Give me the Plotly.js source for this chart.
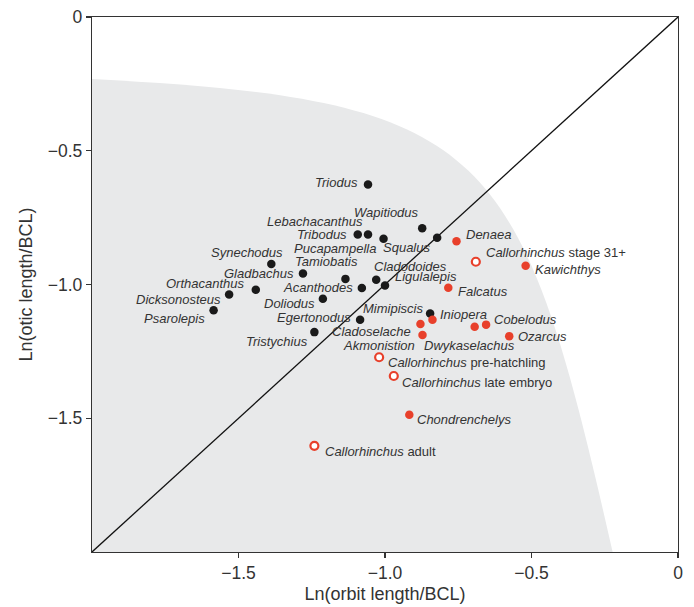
<!DOCTYPE html>
<html>
<head>
<meta charset="utf-8">
<script src="https://cdn.plot.ly/plotly-3.0.1.min.js"></script>
<style>html,body{margin:0;padding:0;background:#fff;}#chart{width:694px;height:607px;}</style>
</head>
<body>
<div id="chart"></div>
<script>
// ---- Data ----
const blackNames = ["Triodus","Wapitiodus","Lebachacanthus","Tribodus","Pucapampella","Squalus","Synechodus","Gladbachus","Tamiobatis","Cladodoides","Ligulalepis","Acanthodes","Orthacanthus","Dicksonosteus","Doliodus","Psarolepis","Mimipiscis","Egertonodus","Tristychius"];
const blackX = [-1.058,-0.873,-1.058,-1.093,-1.005,-0.822,-1.388,-1.280,-1.135,-1.030,-1.000,-1.079,-1.441,-1.532,-1.212,-1.585,-0.846,-1.085,-1.241];
const blackY = [-0.626,-0.790,-0.813,-0.813,-0.829,-0.825,-0.923,-0.959,-0.979,-0.982,-1.004,-1.013,-1.020,-1.037,-1.053,-1.096,-1.108,-1.132,-1.178];

const redNames = ["Denaea","Kawichthys","Falcatus","Iniopera","Cladoselache","Akmonistion","Dwykaselachus","Cobelodus","Ozarcus","Chondrenchelys"];
const redX = [-0.756,-0.520,-0.784,-0.838,-0.879,-0.872,-0.694,-0.655,-0.576,-0.917];
const redY = [-0.838,-0.930,-1.012,-1.132,-1.148,-1.189,-1.158,-1.150,-1.193,-1.487];

const openNames = ["stage 31+","pre-hatchling","late embryo","adult"];
const openX = [-0.690,-1.020,-0.970,-1.241];
const openY = [-0.915,-1.272,-1.342,-1.603];

const xTickVals = [-1.5,-1.0,-0.5,0];
const xTickText = ["\u22121.5","\u22121.0","\u22120.5","0"];
const yTickVals = [-1.5,-1.0,-0.5,0];
const yTickText = ["\u22121.5","\u22121.0","\u22120.5","0"];
const axisRange = [-2,0];

// ---- Label placement (style only) ----
const place = {
  "Triodus":["right",-8,2],"Wapitiodus":["right",-1,16],"Lebachacanthus":["right",-3,13],
  "Tribodus":["right",-9,0],"Pucapampella":["right",-6,-10],"Squalus":["right",-5,-10],
  "Synechodus":["right",14,11],"Gladbachus":["right",-7,0],"Tamiobatis":["right",15,17],
  "Cladodoides":["left",-4,13],"Ligulalepis":["left",8,9],"Acanthodes":["right",-7,0],
  "Orthacanthus":["right",-9,6],"Dicksonosteus":["right",-6,-5],"Doliodus":["right",-6,-5],
  "Psarolepis":["right",-7,-8],"Mimipiscis":["right",-5,5],"Egertonodus":["right",-7,2],
  "Tristychius":["right",-4,-9],
  "Denaea":["left",8,7],"Kawichthys":["left",7,-4],"Falcatus":["left",8,-4],
  "Iniopera":["left",6,5],"Cladoselache":["right",-7,-7],"Akmonistion":["right",-6,-10],
  "Dwykaselachus":["center",-5,-19],"Cobelodus":["left",6,5],"Ozarcus":["left",7,0],
  "Chondrenchelys":["left",6,-5],
  "stage 31+":["left",8,9],"pre-hatchling":["left",7,-5],"late embryo":["left",6,-7],"adult":["left",9,-6]
};

const FONT = "Liberation Sans, Arial, Helvetica, sans-serif";
const TXT = "#333333";
const RED = "#e8402b";

const annotations = [];
function addLabels(names, xs, ys, fmt){
  names.forEach((n,i)=>{
    const p = place[n];
    annotations.push({
      x: xs[i], y: ys[i], xref:"x", yref:"y", text: fmt(n), showarrow:false,
      xanchor:p[0], yanchor:"middle", xshift:p[1], yshift:p[2],
      font:{family:FONT, size:13, color:TXT}
    });
  });
}
addLabels(blackNames, blackX, blackY, n=>"<i>"+n+"</i>");
addLabels(redNames, redX, redY, n=>"<i>"+n+"</i>");
addLabels(openNames, openX, openY, n=>"<i>Callorhinchus</i> "+n);

const traces = [
  {type:"scatter", mode:"markers", x:blackX, y:blackY, hoverinfo:"skip",
   marker:{size:8.5, color:"#1a1a1a", line:{width:0}}},
  {type:"scatter", mode:"markers", x:redX, y:redY, hoverinfo:"skip",
   marker:{size:8.5, color:RED, line:{width:0}}},
  {type:"scatter", mode:"markers", x:openX, y:openY, hoverinfo:"skip",
   marker:{size:8, color:"#ffffff", line:{width:2.2, color:RED}}}
];

// Background shaded region (decoration) and 1:1 reference line
const bgPath = "M -2 -2 L -2 -0.2316 C -0.6357 -0.3109, -0.5409 -0.4680, -0.2231 -2 Z";

const axisCommon = {
  range: axisRange, showgrid:false, zeroline:false, showline:true, mirror:true,
  linecolor:"#333333", linewidth:1.2, ticks:"outside", ticklen:5, tickwidth:1.2,
  tickcolor:"#333333", tickfont:{family:FONT, size:17.5, color:TXT}, fixedrange:true
};

const layout = {
  width:694, height:607,
  margin:{l:92, r:16, t:17, b:55, pad:0},
  paper_bgcolor:"#ffffff", plot_bgcolor:"#ffffff",
  showlegend:false,
  xaxis: Object.assign({}, axisCommon, {
    tickvals:xTickVals, ticktext:xTickText,
    title:{text:"Ln(orbit length/BCL)", font:{family:FONT, size:18, color:TXT}, standoff:5}
  }),
  yaxis: Object.assign({}, axisCommon, {
    tickvals:yTickVals, ticktext:yTickText,
    title:{text:"Ln(otic length/BCL)", font:{family:FONT, size:18, color:TXT}, standoff:10}
  }),
  shapes:[
    {type:"path", xref:"x", yref:"y", path:bgPath, fillcolor:"#e8e9ea", line:{width:0}, layer:"below"},
    {type:"line", xref:"x", yref:"y", x0:axisRange[0], y0:axisRange[0], x1:axisRange[1], y1:axisRange[1],
     line:{color:"#111111", width:1.3}, layer:"below"}
  ],
  annotations: annotations
};

Plotly.newPlot("chart", traces, layout, {displayModeBar:false, staticPlot:true});
</script>
</body>
</html>
